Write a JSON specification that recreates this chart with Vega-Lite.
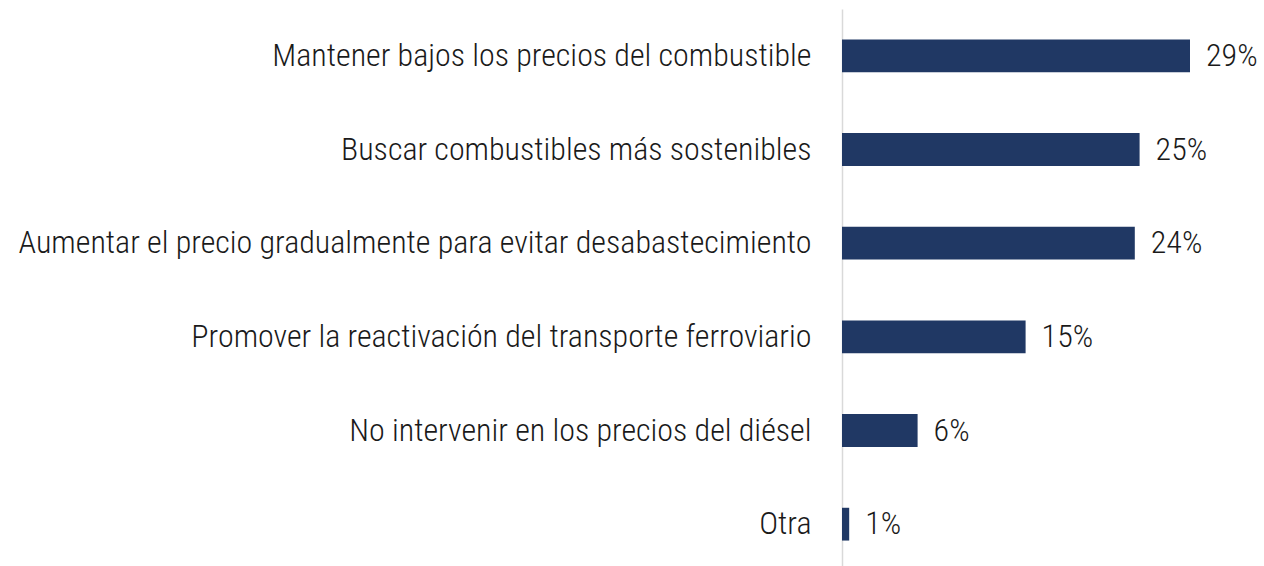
{
  "$schema": "https://vega.github.io/schema/vega-lite/v6.json",
  "width": 420,
  "height": 562,
  "autosize": {"type": "none"},
  "padding": {"left": 842, "top": 9, "right": 0, "bottom": 0},
  "background": "white",
  "config": {"view": {"stroke": null}},
  "data": {
    "values": [
      {"opcion": "Mantener bajos los precios del combustible", "valor": 0.290},
      {"opcion": "Buscar combustibles más sostenibles", "valor": 0.248},
      {"opcion": "Aumentar el precio gradualmente para evitar desabastecimiento", "valor": 0.244},
      {"opcion": "Promover la reactivación del transporte ferroviario", "valor": 0.153},
      {"opcion": "No intervenir en los precios del diésel", "valor": 0.063},
      {"opcion": "Otra", "valor": 0.006}
    ]
  },
  "encoding": {
    "y": {
      "field": "opcion",
      "type": "nominal",
      "sort": null,
      "scale": {"paddingInner": 0.65, "paddingOuter": 0.325},
      "axis": {
        "title": null,
        "ticks": false,
        "domain": true,
        "domainColor": "#d9d9d9",
        "domainWidth": 1.5,
        "labelPadding": 31,
        "labelLimit": 1000,
        "labelFont": "Roboto Condensed, Liberation Sans Narrow, DejaVu Sans Condensed, Roboto",
        "labelFontSize": 32,
        "labelFontWeight": 300,
        "labelColor": "#1a1a1a"
      }
    },
    "x": {
      "field": "valor",
      "type": "quantitative",
      "scale": {"domain": [0, 0.35], "nice": false},
      "axis": null
    }
  },
  "layer": [
    {"mark": {"type": "bar", "color": "#203864"}},
    {
      "mark": {
        "type": "text",
        "align": "left",
        "baseline": "middle",
        "dx": 16,
        "font": "Roboto Condensed, Liberation Sans Narrow, DejaVu Sans Condensed, Roboto",
        "fontSize": 32,
        "fontWeight": 300,
        "color": "#1a1a1a"
      },
      "encoding": {"text": {"field": "valor", "type": "quantitative", "format": ".0%"}}
    }
  ]
}
